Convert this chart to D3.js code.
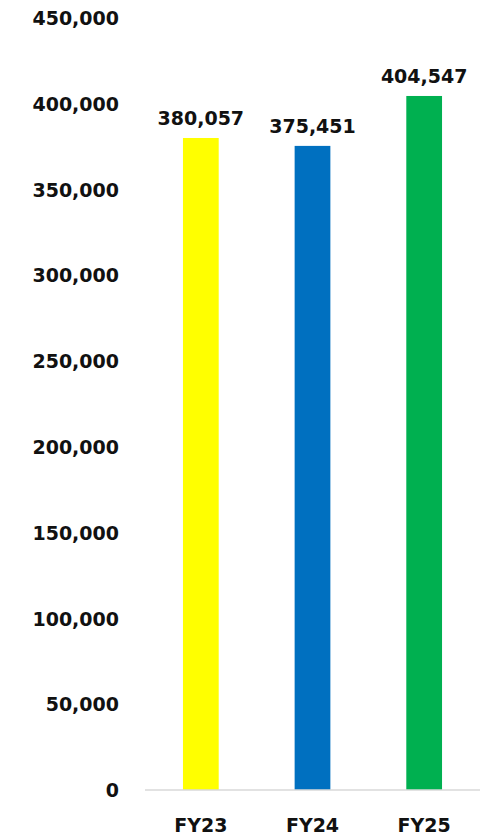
<!DOCTYPE html>
<html>
<head>
<meta charset="utf-8">
<script src="https://cdn.jsdelivr.net/npm/d3@7"></script>
<style>
  html, body { margin: 0; padding: 0; background: #fff; }
  svg text { font-family: "DejaVu Sans", sans-serif; font-weight: bold; fill: #111; }
</style>
</head>
<body>
<svg id="chart" width="490" height="838"></svg>
<script>
// Fiscal years and their totals
const categories = ["FY23", "FY24", "FY25"];
const values = [380057, 375451, 404547];
const barColors = ["#FFFF00", "#0070C0", "#00B050"];
const yTicks = [0, 50000, 100000, 150000, 200000, 250000, 300000, 350000, 400000, 450000];

const svg = d3.select("#chart");
const plotLeft = 145, plotRight = 480, plotTop = 18, plotBottom = 790;
const fontSize = "19px";

const x = d3.scaleBand().domain(categories).range([plotLeft, plotRight]).paddingInner(0.68).paddingOuter(0.34);
const y = d3.scaleLinear().domain([0, 450000]).range([plotBottom, plotTop]);
const fmt = d3.format(",");

// Value axis: labels only, no line or ticks
const yAxis = d3.axisLeft(y).tickValues(yTicks).tickFormat(fmt).tickSize(0).tickPadding(0);
const gy = svg.append("g").attr("transform", "translate(119,0)").call(yAxis);
gy.select(".domain").remove();
gy.selectAll("text")
  .style("font-family", "DejaVu Sans, sans-serif")
  .style("font-weight", "bold")
  .style("font-size", fontSize)
  .attr("fill", "#111")
  .attr("dy", "0.35em");

// Bars
svg.append("g").selectAll("rect")
  .data(categories)
  .join("rect")
  .attr("x", d => x(d))
  .attr("width", x.bandwidth())
  .attr("y", (d, i) => y(values[i]))
  .attr("height", (d, i) => y(0) - y(values[i]))
  .attr("fill", (d, i) => barColors[i]);

// Baseline
svg.append("line")
  .attr("x1", plotLeft).attr("x2", plotRight)
  .attr("y1", y(0)).attr("y2", y(0))
  .attr("stroke", "#d9d9d9").attr("stroke-width", 1.5);

// Value labels above bars
svg.append("g").selectAll("text")
  .data(categories)
  .join("text")
  .attr("x", d => x(d) + x.bandwidth() / 2)
  .attr("y", (d, i) => y(values[i]) - 13)
  .attr("text-anchor", "middle")
  .style("font-size", fontSize)
  .text((d, i) => fmt(values[i]));

// Category axis labels
const xAxis = d3.axisBottom(x).tickSize(0).tickPadding(0);
const gx = svg.append("g").attr("transform", `translate(0,${plotBottom})`).call(xAxis);
gx.select(".domain").remove();
gx.selectAll("text")
  .style("font-family", "DejaVu Sans, sans-serif")
  .style("font-weight", "bold")
  .style("font-size", fontSize)
  .attr("fill", "#111")
  .attr("dy", null)
  .attr("y", 42);
</script>
</body>
</html>
